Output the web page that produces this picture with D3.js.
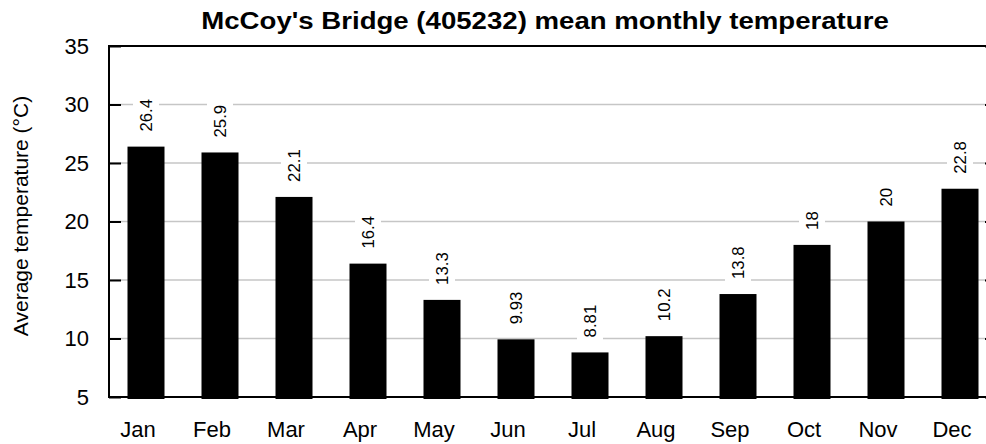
<!DOCTYPE html>
<html>
<head>
<meta charset="utf-8">
<script src="https://cdn.jsdelivr.net/npm/d3@7"></script>
<style>
  html, body { margin: 0; padding: 0; background: #fff; }
  svg { display: block; font-family: "Liberation Sans", Arial, Helvetica, sans-serif; }
</style>
</head>
<body>
<svg id="chart" width="986" height="444"></svg>
<script>
// Mean monthly temperature, McCoy's Bridge station 405232
const months = ["Jan", "Feb", "Mar", "Apr", "May", "Jun", "Jul", "Aug", "Sep", "Oct", "Nov", "Dec"];
const meanTemp = [26.4, 25.9, 22.1, 16.4, 13.3, 9.93, 8.81, 10.2, 13.8, 18, 20, 22.8];
const yTicks = [5, 10, 15, 20, 25, 30, 35];
const titleText = "McCoy's Bridge (405232) mean monthly temperature";
const yTitle = "Average temperature (°C)";

const svg = d3.select("#chart");
const plot = { left: 109, right: 997, top: 46, bottom: 397 };

const x = d3.scaleBand()
  .domain(months)
  .range([plot.left, plot.right])
  .paddingInner(0.5)
  .paddingOuter(0.25);

const y = d3.scaleLinear()
  .domain([5, 35])
  .range([plot.bottom, plot.top]);

const fmt = d3.format(".3~g");

// Horizontal grid lines at the interior ticks
svg.append("g")
  .selectAll("line")
  .data(yTicks.filter(t => t > 5 && t < 35))
  .join("line")
  .attr("x1", plot.left)
  .attr("x2", plot.right)
  .attr("y1", d => y(d))
  .attr("y2", d => y(d))
  .attr("stroke", "#c6c6c6")
  .attr("stroke-width", 1.5);

// Bars
svg.append("g")
  .selectAll("rect")
  .data(months)
  .join("rect")
  .attr("x", d => x(d))
  .attr("width", x.bandwidth())
  .attr("y", (d, i) => y(meanTemp[i]))
  .attr("height", (d, i) => y(5) - y(meanTemp[i]) + 2)
  .attr("fill", "#000");

// Value labels, rotated, on a white backing
const labelGap = 15;
const labels = svg.append("g")
  .selectAll("g")
  .data(months)
  .join("g")
  .attr("transform", (d, i) =>
    `translate(${x(d) + x.bandwidth() / 2},${y(meanTemp[i]) - labelGap}) rotate(-90) scale(1.05,1)`);

labels.append("text")
  .attr("x", 0)
  .attr("y", 0)
  .attr("dy", "0.36em")
  .attr("font-size", 16)
  .attr("fill", "#000")
  .text((d, i) => fmt(meanTemp[i]));

labels.each(function () {
  const g = d3.select(this);
  const bb = g.select("text").node().getBBox();
  g.insert("rect", "text")
    .attr("x", bb.x - 5)
    .attr("y", -13)
    .attr("width", bb.width + 10)
    .attr("height", 26)
    .attr("fill", "#fff");
});

// Frame: left, top, bottom and right axis lines
const frame = svg.append("g").attr("stroke", "#000").attr("stroke-width", 2);
frame.append("line").attr("x1", plot.left).attr("x2", plot.left).attr("y1", plot.top).attr("y2", plot.bottom);
frame.append("line").attr("x1", plot.right).attr("x2", plot.right).attr("y1", plot.top).attr("y2", plot.bottom);
frame.append("line").attr("x1", plot.left - 1).attr("x2", plot.right + 1).attr("y1", plot.top).attr("y2", plot.top);
frame.append("line").attr("x1", plot.left - 1).attr("x2", plot.right + 1).attr("y1", plot.bottom).attr("y2", plot.bottom);

// Left axis: inward ticks and labels
const yAxis = d3.axisLeft(y).tickValues(yTicks).tickSize(-12).tickPadding(20);
const gy = svg.append("g")
  .attr("transform", `translate(${plot.left},0)`)
  .call(yAxis);
gy.select(".domain").remove();
gy.selectAll(".tick line").attr("stroke", "#000").attr("stroke-width", 2);
gy.selectAll(".tick text")
  .attr("font-size", 22)
  .attr("font-family", "Liberation Sans, Arial, sans-serif")
  .attr("fill", "#000");

// Right axis ticks (inward)
const gyr = svg.append("g")
  .attr("transform", `translate(${plot.right},0)`)
  .call(d3.axisRight(y).tickValues(yTicks).tickSize(-12).tickFormat(""));
gyr.select(".domain").remove();
gyr.selectAll(".tick line").attr("stroke", "#000").attr("stroke-width", 2);

// Month labels
const gx = svg.append("g")
  .attr("transform", `translate(0,${plot.bottom})`)
  .call(d3.axisBottom(x).tickSize(0).tickPadding(0));
gx.select(".domain").remove();
gx.selectAll(".tick text")
  .attr("y", 40)
  .attr("dy", 0)
  .attr("dx", -8)
  .attr("font-size", 22)
  .attr("font-family", "Liberation Sans, Arial, sans-serif")
  .attr("fill", "#000");

// Title, slightly widened
svg.append("text")
  .attr("transform", "translate(545,29) scale(1.15,1)")
  .attr("text-anchor", "middle")
  .attr("font-size", 24)
  .attr("font-weight", "bold")
  .attr("fill", "#000")
  .text(titleText);

// Y axis title
svg.append("text")
  .attr("transform", "translate(28,216) rotate(-90)")
  .attr("text-anchor", "middle")
  .attr("font-size", 21)
  .attr("fill", "#000")
  .text(yTitle);
</script>
</body>
</html>
